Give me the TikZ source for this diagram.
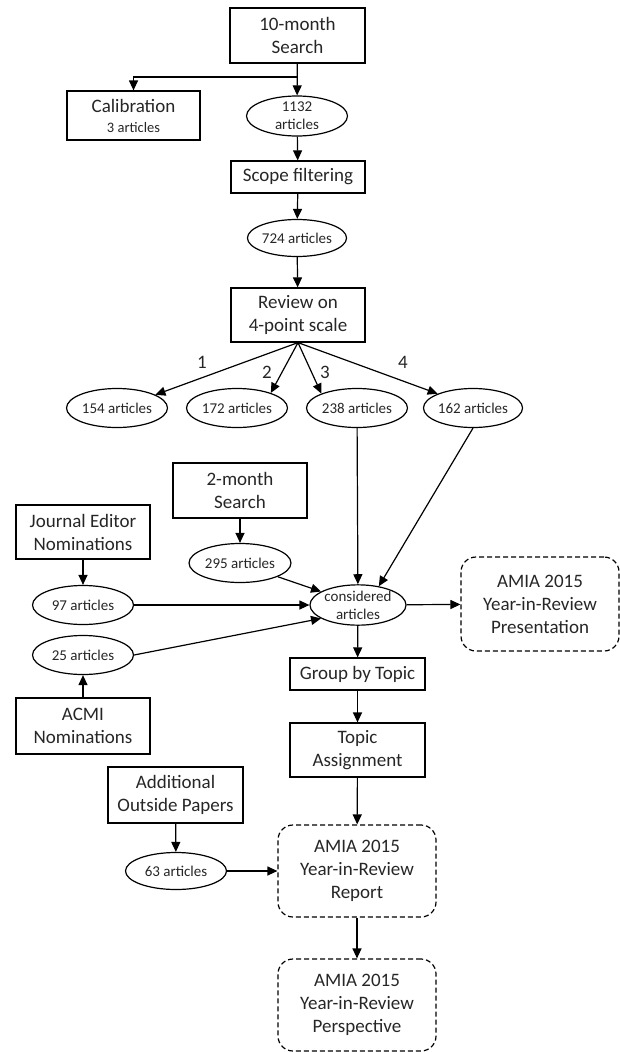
\documentclass[tikz,border=0pt]{standalone}
\usepackage{fontspec}
\setmainfont{Carlito}
\usetikzlibrary{arrows.meta,shapes.geometric}
\begin{document}
\begin{tikzpicture}[x=1pt,y=-1pt,
  every node/.style={text=black!85},
  box/.style={draw, line width=1.2pt, rectangle, align=center, inner sep=0pt, font=\fontsize{19}{23}\selectfont},
  ell/.style={draw, line width=1.2pt, ellipse, align=center, inner sep=0pt, minimum width=101pt, minimum height=39pt, font=\fontsize{15}{18}\selectfont},
  dbox/.style={draw, line width=1.2pt, dash pattern=on 5pt off 3pt, rounded corners=15pt, align=center, inner sep=0pt, minimum width=158pt, minimum height=92pt, font=\fontsize{19}{23}\selectfont},
  arr/.style={draw, line width=1.2pt, -{Triangle[length=10pt,width=9pt]}},
  lab/.style={font=\fontsize{19}{23}\selectfont, inner sep=0pt}
]
\useasboundingbox (0,0) rectangle (619,1052);

\node[box, minimum width=135pt, minimum height=55pt] (ten) at (297.5,35.5) {10-month\\Search};
\node[box, minimum width=133pt, minimum height=49pt] (calib) at (133.5,115.5) {Calibration\\[-3pt]{\fontsize{14.5}{17}\selectfont 3 articles}};
\node[ell, minimum height=40pt] (e1132) at (297,116) {1132\\articles};
\node[box, minimum width=134pt, minimum height=32pt] (scope) at (298,177) {Scope filtering};
\node[ell, minimum width=98pt, minimum height=37pt] (e724) at (297,238) {724 articles};
\node[box, minimum width=134pt, minimum height=54pt] (review) at (298,315) {Review on\\4-point scale};

\node[ell] (e154) at (117,408) {154 articles};
\node[ell] (e172) at (237,408) {172 articles};
\node[ell] (e238) at (357,408) {238 articles};
\node[ell, minimum width=96pt] (e162) at (473,408) {162 articles};

\node[lab] (l1) at (202,362) {1};
\node[lab] (l2) at (267,372) {2};
\node[lab] (l3) at (325,372) {3};
\node[lab] (l4) at (403,362) {4};

\node[box, minimum width=134pt, minimum height=55pt] (two) at (240,490.5) {2-month\\Search};
\node[box, minimum width=134pt, minimum height=54pt] (jen) at (83,532) {Journal Editor\\Nominations};
\node[ell, minimum width=102pt] (e295) at (240,563) {295 articles};
\node[ell] (e97) at (83,605) {97 articles};
\node[ell, minimum width=96pt] (cons) at (358,605) {considered\\articles};
\node[dbox, minimum height=94pt] (pres) at (540,604) {AMIA 2015\\Year-in-Review\\Presentation};
\node[ell] (e25) at (83,655) {25 articles};
\node[box, minimum width=135pt, minimum height=32pt] (group) at (357.5,674) {Group by Topic};
\node[box, minimum width=134pt, minimum height=56pt] (acmi) at (83,726) {ACMI\\Nominations};
\node[box, minimum width=135pt, minimum height=54pt] (topic) at (357.5,750) {Topic\\Assignment};
\node[box, minimum width=135pt, minimum height=56pt] (add) at (175.5,795) {Additional\\Outside Papers};
\node[ell, minimum height=37pt] (e63) at (176,871) {63 articles};
\node[dbox] (rep) at (357,871) {AMIA 2015\\Year-in-Review\\Report};
\node[dbox] (persp) at (357,1005) {AMIA 2015\\Year-in-Review\\Perspective};

\coordinate (br) at (297,77);
\draw[arr] (ten) -- (e1132);
\draw[arr] (br) -| (calib);
\draw[arr] (e1132) -- (scope);
\draw[arr] (scope) -- (e724);
\draw[arr] (e724) -- (review);
\draw[arr] (review.south) -- (e154.19);
\draw[arr] (review.south) -- (e172.24);
\draw[arr] (review.south) -- (e238.158);
\draw[arr] (review.south) -- (e162.158);
\draw[arr] (e238) -- (cons);
\draw[arr] (e162.south) -- (cons.42);
\draw[arr] (two) -- (e295);
\draw[arr] (e295.-20) -- (cons.160);
\draw[arr] (jen) -- (e97);
\draw[arr] (e97) -- (cons);
\draw[arr] (acmi) -- (e25);
\draw[arr] (e25.east) -- (cons.200);
\draw[arr] (cons) -- (pres);
\draw[arr] (cons) -- (group);
\draw[arr] (group) -- (topic);
\draw[arr] (topic) -- (rep);
\draw[arr] (rep) -- (persp);
\draw[arr] (add) -- (e63);
\draw[arr] (e63) -- (rep);
\end{tikzpicture}
\end{document}
